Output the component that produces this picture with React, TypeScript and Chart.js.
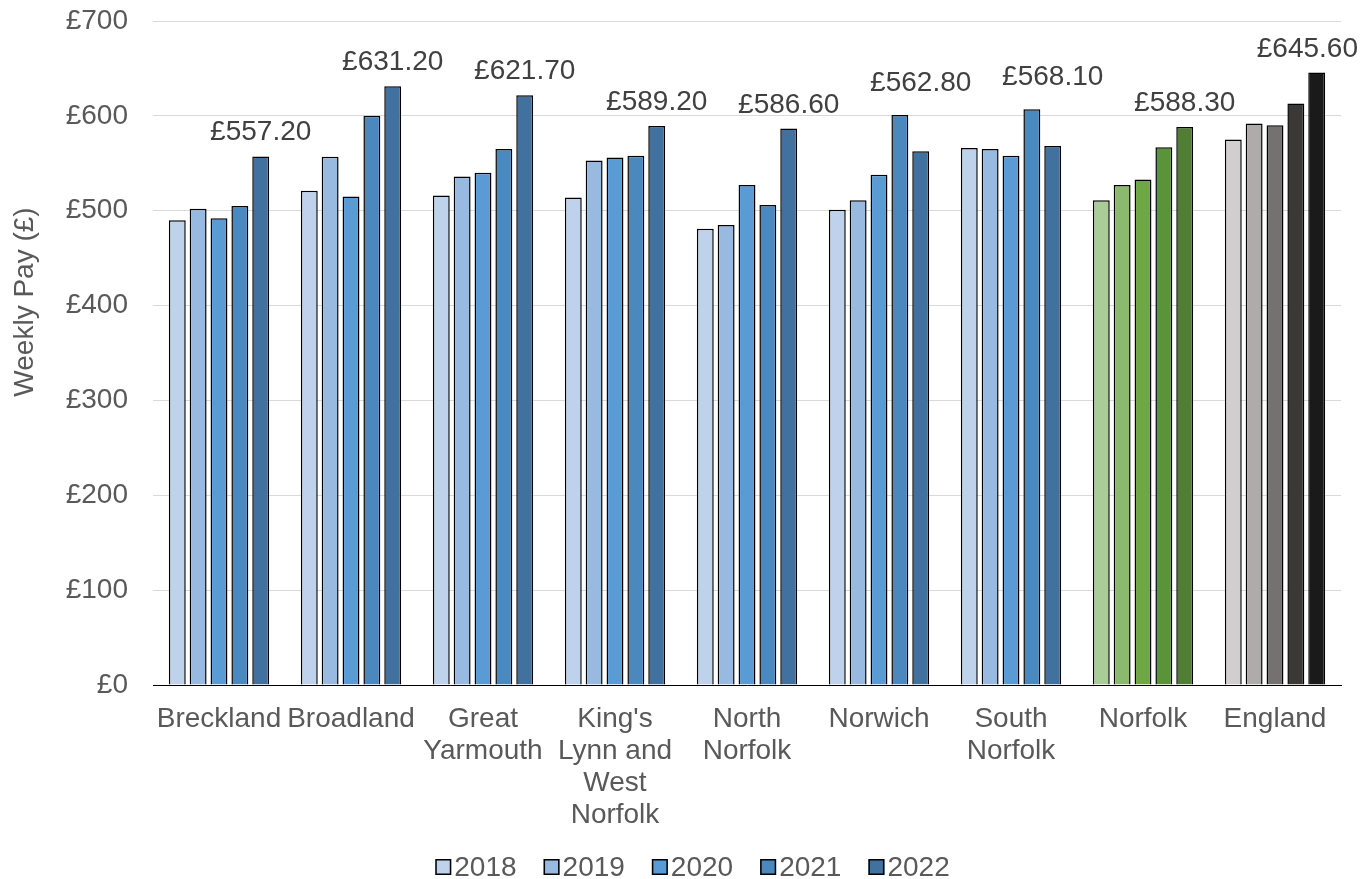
import React, { useEffect, useRef } from "react";
import { Chart, registerables } from "chart.js";

Chart.register(...registerables);

const categories: (string | string[])[] = [
  "Breckland",
  "Broadland",
  ["Great", "Yarmouth"],
  ["King's", "Lynn and", "West", "Norfolk"],
  ["North", "Norfolk"],
  "Norwich",
  ["South", "Norfolk"],
  "Norfolk",
  "England",
];
const years = ["2018", "2019", "2020", "2021", "2022"];

const pay2018 = [490, 521, 516, 514, 481, 501, 566, 511, 575];
const pay2019 = [502, 557, 536, 553, 485, 511, 565, 527, 592];
const pay2020 = [492, 515, 540, 556, 527, 538, 558, 533, 590];
const pay2021 = [505, 600, 565, 558, 506, 601, 607, 567, 613];
const pay2022 = [557.2, 631.2, 621.7, 589.2, 586.6, 562.8, 568.1, 588.3, 645.6];
const seriesValues = [pay2018, pay2019, pay2020, pay2021, pay2022];

const yTicks = [0, 100, 200, 300, 400, 500, 600, 700];
const yTitle = "Weekly Pay (£)";

const blues = ["#BED2EC", "#98BAE1", "#5B9BD5", "#4A88BE", "#41729F"];
const greens = ["#AACC96", "#8BBA6F", "#6FA745", "#5B9339", "#507E32"];
const greys = ["#D0CECE", "#AFABAB", "#767171", "#3B3838", "#1A1A1A"];

const FONT = "'Liberation Sans', Arial, sans-serif";
const TEXT = "#595959";

const labelPlugin = {
  id: "lastLabels",
  afterDatasetsDraw(chart: any) {
    const ctx = chart.ctx;
    const meta = chart.getDatasetMeta(4);
    const yScale = chart.scales.y;
    ctx.save();
    ctx.font = `28px ${FONT}`;
    ctx.fillStyle = "#404040";
    ctx.textAlign = "center";
    ctx.textBaseline = "alphabetic";
    meta.data.forEach((bar: any, i: number) => {
      const text = "£" + pay2022[i].toFixed(2);
      const w = ctx.measureText(text).width;
      let x = bar.x;
      x = Math.min(x, chart.width - w / 2 - 3);
      const groupMax = Math.max(...seriesValues.map((s) => s[i]));
      let y = bar.y - 16;
      if (groupMax > pay2022[i]) {
        y = yScale.getPixelForValue(groupMax) - 24;
      }
      ctx.fillText(text, x, y);
    });
    ctx.restore();
  },
};

const titlePlugin = {
  id: "yTitle",
  afterDraw(chart: any) {
    const ctx = chart.ctx;
    const area = chart.chartArea;
    ctx.save();
    ctx.font = `28px ${FONT}`;
    ctx.fillStyle = TEXT;
    ctx.translate(chart.scales.y.left + 25, (area.top + area.bottom) / 2 - 51);
    ctx.rotate(-Math.PI / 2);
    ctx.textAlign = "center";
    ctx.textBaseline = "middle";
    ctx.fillText(yTitle, 0, 0);
    ctx.restore();
  },
};

const legendPlugin = {
  id: "customLegend",
  afterDraw(chart: any) {
    const ctx = chart.ctx;
    ctx.save();
    ctx.font = `28px ${FONT}`;
    const box = 16;
    const gap = 3;
    const spacing = 27;
    const widths = years.map((y) => box + gap + ctx.measureText(y).width);
    const total = widths.reduce((a, b) => a + b, 0) + spacing * (years.length - 1);
    let x = chart.width / 2 + 12 - total / 2;
    const cy = chart.height - 12;
    years.forEach((y, i) => {
      ctx.fillStyle = blues[i];
      ctx.fillRect(x, cy - box / 2, box, box);
      ctx.strokeStyle = "#000";
      ctx.lineWidth = 1.5;
      ctx.strokeRect(x + 0.75, cy - box / 2 + 0.75, box - 1.5, box - 1.5);
      ctx.fillStyle = TEXT;
      ctx.textAlign = "left";
      ctx.textBaseline = "middle";
      ctx.fillText(y, x + box + gap, cy + 1);
      x += widths[i] + spacing;
    });
    ctx.restore();
  },
};

export default function App() {
  const ref = useRef<HTMLCanvasElement | null>(null);
  useEffect(() => {
    document.body.style.margin = "0";
    const canvas = ref.current;
    if (!canvas) return;
    const colorsFor = (i: number) =>
      categories.map((c, k) => (k === 7 ? greens[i] : k === 8 ? greys[i] : blues[i]));
    const chart = new Chart(canvas, {
      type: "bar",
      data: {
        labels: categories as any,
        datasets: seriesValues.map((vals, i) => ({
          label: years[i],
          data: vals,
          backgroundColor: colorsFor(i),
          borderColor: "#000000",
          borderWidth: 1.5,
          categoryPercentage: 0.79,
          barPercentage: 0.81,
        })),
      },
      options: {
        responsive: false,
        animation: false,
        layout: { padding: { left: 0, right: 20, top: 21, bottom: 44 } },
        plugins: {
          legend: { display: false },
          tooltip: { enabled: false },
        },
        scales: {
          x: {
            grid: { display: false },
            border: { display: true, color: "#000000", width: 1 },
            ticks: {
              color: TEXT,
              font: { family: FONT, size: 28, lineHeight: 1.15 },
              maxRotation: 0,
              autoSkip: false,
              padding: 10,
            },
            afterFit: (scale: any) => {
              scale.height = 150;
            },
          },
          y: {
            min: 0,
            max: 700,
            afterBuildTicks: (scale: any) => {
              scale.ticks = yTicks.map((v) => ({ value: v }));
            },
            grid: { color: "#D9D9D9", lineWidth: 1, drawTicks: false },
            border: { display: false },
            ticks: {
              color: TEXT,
              font: { family: FONT, size: 28 },
              padding: 25,
              callback: (v: any) => "£" + v,
            },
            title: { display: false },
            afterFit: (scale: any) => {
              scale.width = 153;
              scale.paddingTop = 0;
              scale.paddingBottom = 0;
            },
          },
        },
      },
      plugins: [labelPlugin, titlePlugin, legendPlugin],
    });
    return () => chart.destroy();
  }, []);
  return (
    <div style={{ position: "fixed", left: 0, top: 0, width: 1361, height: 879, background: "#fff" }}>
      <canvas ref={ref} width={1361} height={879} />
    </div>
  );
}
